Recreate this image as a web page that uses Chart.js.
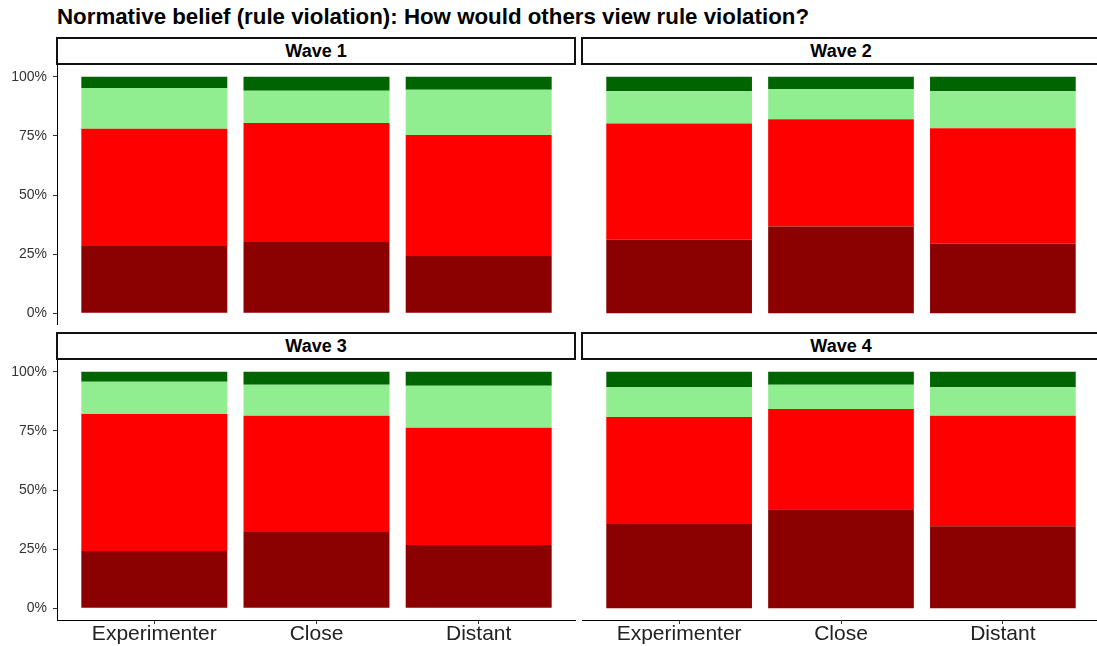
<!DOCTYPE html>
<html>
<head>
<meta charset="utf-8">
<script src="https://cdn.jsdelivr.net/npm/chart.js@4"></script>
<style>
  body { margin: 0; width: 1097px; height: 646px; overflow: hidden; background: #fff; font-family: "Liberation Sans", Arial, sans-serif; position: relative; }
  #title { position: absolute; left: 57px; top: 5px; font-weight: bold; font-size: 22.3px; line-height: 24px; color: #000; white-space: nowrap; }
  .strip { position: absolute; box-sizing: border-box; height: 28px; width: 520px; border: 2px solid #111; background: #fff;
           font-weight: bold; font-size: 18px; line-height: 24px; text-align: center; color: #000; }
  canvas { position: absolute; }
</style>
</head>
<body>
<div id="title">Normative belief (rule violation): How would others view rule violation?</div>

<div class="strip" style="left:56px; top:37px">Wave 1</div>
<div class="strip" style="left:581px; top:37px">Wave 2</div>
<div class="strip" style="left:56px; top:332px">Wave 3</div>
<div class="strip" style="left:581px; top:332px">Wave 4</div>

<canvas id="w1" width="576" height="260" style="left:0; top:65px"></canvas>
<canvas id="w2" width="518" height="260" style="left:582px; top:65px"></canvas>
<canvas id="w3" width="576" height="286" style="left:0; top:360px"></canvas>
<canvas id="w4" width="518" height="286" style="left:582px; top:360px"></canvas>

<script>
const categories = ["Experimenter", "Close", "Distant"];
const waves = ["Wave 1", "Wave 2", "Wave 3", "Wave 4"];
const yTicks = [0, 25, 50, 75, 100];

// percent per answer level, one row per wave, columns follow categories
const level1 = [[28.4, 30.1, 24.2], [31.1, 36.7, 29.4], [24.2, 32.2, 26.7], [35.6, 41.9, 34.7]];
const level2 = [[49.6, 50.4, 51.2], [49.2, 45.3, 48.8], [58.0, 49.2, 49.6], [45.3, 42.4, 46.7]];
const level3 = [[17.3, 13.6, 19.1], [13.6, 12.7, 15.7], [13.6, 13.1, 17.8], [12.7, 10.2, 12.1]];
const level4 = [[4.7, 5.9, 5.5], [6.1, 5.3, 6.1], [4.2, 5.5, 5.9], [6.4, 5.5, 6.5]];

const levels = [level1, level2, level3, level4];
const colors = ["#8B0000", "#FF0000", "#90EE90", "#006400"];
const font = "'Liberation Sans', Arial, sans-serif";

function makeChart(id, w, showY, showX) {
  const datasets = levels.map((lvl, i) => ({
    data: lvl[w].map((v, j) => ({ x: j + 1, y: v })),
    backgroundColor: colors[i],
    borderWidth: 0,
    barPercentage: 0.9,
    categoryPercentage: 1
  }));

  new Chart(document.getElementById(id), {
    type: "bar",
    data: { datasets },
    options: {
      responsive: false,
      animation: false,
      layout: { padding: 0 },
      plugins: { legend: { display: false }, tooltip: { enabled: false }, title: { display: false } },
      scales: {
        x: {
          type: "linear",
          stacked: true,
          offset: false,
          min: 0.4,
          max: 3.6,
          display: showX,
          afterBuildTicks: a => { a.ticks = [1, 2, 3].map(v => ({ value: v })); },
          afterFit: a => {
            a.paddingLeft = 0;
            a.paddingRight = 0;
            a.height = showX ? 26 : 0;
          },
          ticks: {
            callback: v => categories[v - 1],
            color: "#222",
            font: { family: font, size: 21 },
            padding: -2,
            maxRotation: 0,
            autoSkip: false
          },
          grid: { display: true, offset: false, drawOnChartArea: false, drawTicks: true, tickLength: 4, color: "#333" },
          border: { display: true, color: "#000", width: 1 }
        },
        y: {
          stacked: true,
          min: -5,
          max: 105,
          display: showY,
          afterBuildTicks: a => { a.ticks = yTicks.map(v => ({ value: v })); },
          afterFit: a => {
            a.paddingTop = 0;
            a.paddingBottom = 0;
            a.width = showY ? 57 : 0;
          },
          ticks: {
            callback: v => v + "%",
            color: "#333",
            font: { family: font, size: 14 },
            padding: 6
          },
          grid: { display: true, drawOnChartArea: false, drawTicks: true, tickLength: 4, color: "#333" },
          border: { display: true, color: "#000", width: 1 }
        }
      }
    }
  });
}

makeChart("w1", 0, true, false);
makeChart("w2", 1, false, false);
makeChart("w3", 2, true, true);
makeChart("w4", 3, false, true);
</script>
</body>
</html>
